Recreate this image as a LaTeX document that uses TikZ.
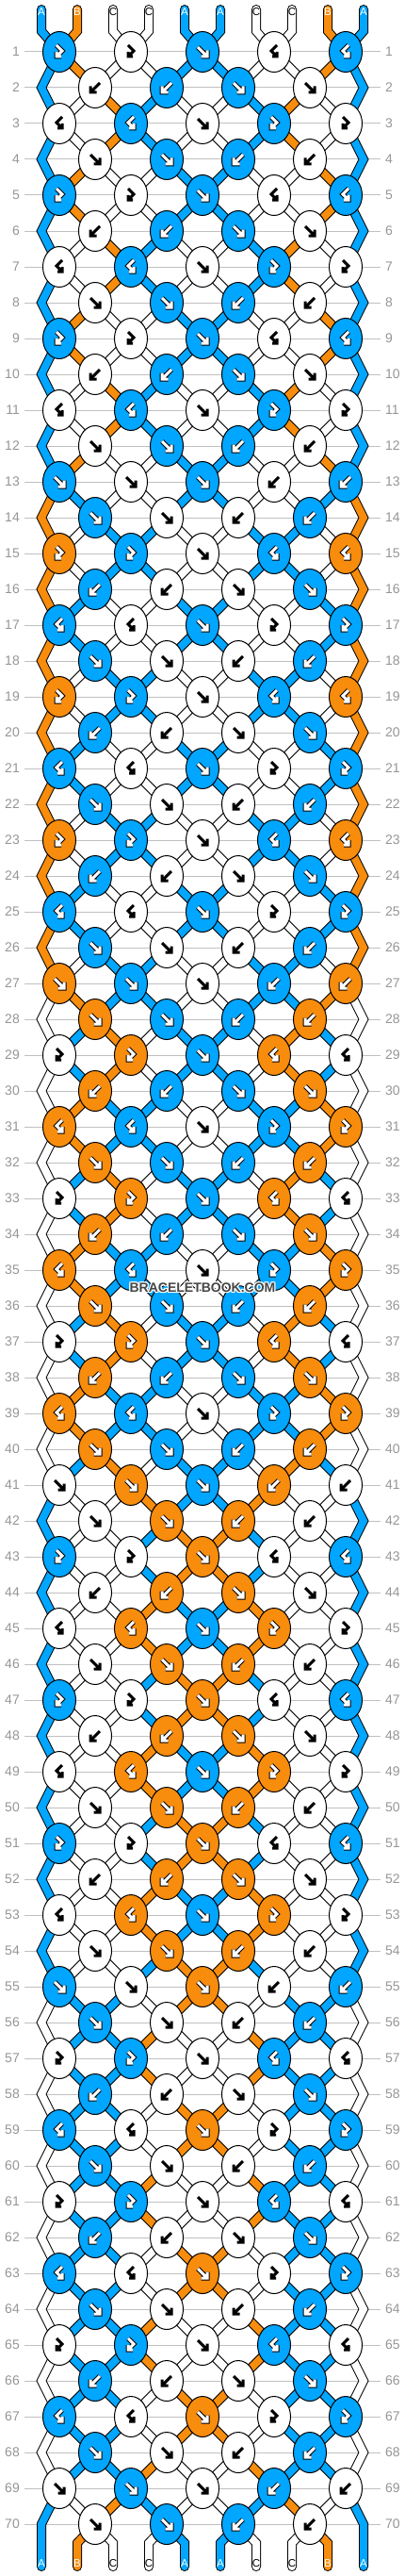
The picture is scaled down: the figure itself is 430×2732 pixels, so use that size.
\documentclass[tikz,border=0pt]{standalone}
\usepackage{fontspec}
\setmainfont{Liberation Sans}
\usetikzlibrary{shapes.geometric}
\definecolor{cA}{RGB}{0,166,255}
\definecolor{cB}{RGB}{248,140,12}
\definecolor{cC}{RGB}{255,255,255}
\definecolor{labgray}{RGB}{150,150,150}
\definecolor{linegray}{RGB}{192,192,192}
\definecolor{wmgray}{RGB}{70,70,70}
\pgfdeclarelayer{grid}
\pgfdeclarelayer{strings}
\pgfsetlayers{grid,strings,main}
\def\colC{cC}
% string states
\def\stXa{cA,cB,cC,cC,cA,cA,cC,cC,cB,cA}
\def\stXb{cA,cC,cB,cA,cC,cC,cA,cB,cC,cA}
\def\stYa{cB,cA,cC,cC,cA,cA,cC,cC,cA,cB}
\def\stYb{cB,cC,cA,cA,cC,cC,cA,cA,cC,cB}
\def\stZa{cC,cB,cA,cA,cC,cC,cA,cA,cB,cC}
\def\stZb{cC,cA,cB,cC,cA,cA,cC,cB,cA,cC}
\def\stWa{cA,cC,cC,cB,cA,cA,cB,cC,cC,cA}
\def\stWb{cA,cC,cC,cA,cB,cB,cA,cC,cC,cA}
\def\stVa{cC,cA,cA,cC,cB,cB,cC,cA,cA,cC}
\def\stVb{cC,cA,cA,cB,cC,cC,cB,cA,cA,cC}
% knot rows
\def\knA{fb/cA,fb/cC,f/cA,bf/cC,bf/cA}
\def\knB{b/cC,b/cA,f/cA,f/cC}
\def\knC{bf/cC,bf/cA,f/cC,fb/cA,fb/cC}
\def\knD{f/cC,f/cA,b/cA,b/cC}
\def\knE{f/cA,f/cC,f/cA,b/cC,b/cA}
\def\knF{f/cA,f/cC,b/cC,b/cA}
\def\knG{fb/cB,fb/cA,f/cC,bf/cA,bf/cB}
\def\knH{b/cA,b/cC,f/cC,f/cA}
\def\knI{bf/cA,bf/cC,f/cA,fb/cC,fb/cA}
\def\knJ{f/cA,f/cC,b/cC,b/cA}
\def\knK{f/cB,f/cA,f/cC,b/cA,b/cB}
\def\knL{f/cB,f/cA,b/cA,b/cB}
\def\knM{fb/cC,fb/cB,f/cA,bf/cB,bf/cC}
\def\knN{b/cB,b/cA,f/cA,f/cB}
\def\knO{bf/cB,bf/cA,f/cC,fb/cA,fb/cB}
\def\knP{f/cB,f/cA,b/cA,b/cB}
\def\knQ{f/cC,f/cB,f/cA,b/cB,b/cC}
\def\knR{f/cC,f/cB,b/cB,b/cC}
\def\knS{fb/cA,fb/cC,f/cB,bf/cC,bf/cA}
\def\knT{b/cC,b/cB,f/cB,f/cC}
\def\knU{bf/cC,bf/cB,f/cA,fb/cB,fb/cC}
\def\knV{f/cC,f/cB,b/cB,b/cC}
\def\knW{f/cA,f/cC,f/cB,b/cC,b/cA}
\def\knX{f/cA,f/cC,b/cC,b/cA}
\def\knY{fb/cC,fb/cA,f/cC,bf/cA,bf/cC}
\def\knZ{b/cA,b/cC,f/cC,f/cA}
\def\kna{bf/cA,bf/cC,f/cB,fb/cC,fb/cA}
\def\knb{f/cA,f/cC,b/cC,b/cA}
\def\knc{f/cC,f/cA,f/cC,b/cA,b/cC}
\def\knd{f/cC,f/cA,b/cA,b/cC}
\tikzset{
  knot/.style={ellipse, draw=black, line width=1pt, minimum width=35pt, minimum height=43pt, inner sep=0pt},
  strand/.style={draw=black, line width=1pt, double=#1, double distance=8pt},
  rowlab/.style={text=labgray, font=\fontsize{14}{16}\selectfont, inner sep=0pt},
  toplab/.style={font=\fontsize{11.5}{13}\selectfont, inner sep=0pt},
  gridline/.style={draw=linegray, line width=1pt},
  glyphdark/.style={draw=black, line width=3pt, line cap=square, line join=miter},
  glyphline/.style={draw=black, line width=5pt, line cap=square, line join=miter},
  glyphlight/.style={draw=white, line width=3pt, line cap=square, line join=miter},
  gf/.pic={\path[pic actions] (-5,-5) -- (4,4) (5,-1.5) -- (5,5) -- (-1.5,5);},
  gb/.pic={\path[pic actions] (5,-5) -- (-4,4) (-5,-1.5) -- (-5,5) -- (1.5,5);},
  gfb/.pic={\path[pic actions] (-3,-7) -- (3,-1) -- (-2.2,4.2) (-3,0) -- (-3,5) -- (2,5);},
  gbf/.pic={\path[pic actions] (3,-7) -- (-3,-1) -- (2.2,4.2) (3,0) -- (3,5) -- (-2,5);},
  wm/.style={font=\bfseries\fontsize{14}{16}\selectfont, inner sep=0pt}
}
\begin{document}
\begin{tikzpicture}[x=1pt,y=-1pt]
\useasboundingbox (0,0) rectangle (430,2732);
\begin{pgfonlayer}{grid}
\fill[white] (0,0) rectangle (430,2732);
\end{pgfonlayer}
% row lines and labels
\foreach \ri in {1,...,70} {
  \pgfmathsetmacro\yy{55+38*(\ri-1)}
  \begin{pgfonlayer}{grid}
  \draw[gridline] (26,\yy) -- (404,\yy);
  \end{pgfonlayer}
  \node[rowlab, anchor=east] (LL\ri) at (21,\yy) {\ri};
  \node[rowlab, anchor=west] (RL\ri) at (409,\yy) {\ri};
}
% knots
\foreach \rn [count=\ri] in {A,B,C,D,A,B,C,D,A,B,C,D,E,F,G,H,I,J,G,H,I,J,G,H,I,J,K,L,M,N,O,P,M,N,O,P,M,N,O,P,Q,R,S,T,U,V,S,T,U,V,S,T,U,V,W,X,Y,Z,a,b,Y,Z,a,b,Y,Z,a,b,c,d} {
  \pgfmathsetmacro\yy{55+38*(\ri-1)}
  \pgfmathsetmacro\xo{isodd(\ri) ? 63 : 101}
  \edef\kl{\csname kn\rn\endcsname}
  \foreach \ty/\kc [count=\kk] in \kl {
    \node[knot, fill=\kc] (K\ri-\kk) at ({\xo+76*(\kk-1)}, \yy) {};
    \edef\tmpc{\kc}
    \ifx\tmpc\colC
      \pic[glyphdark] at (K\ri-\kk) {g\ty};
    \else
      \pic[glyphline] at (K\ri-\kk) {g\ty};
      \pic[glyphlight] at (K\ri-\kk) {g\ty};
    \fi
  }
}
% string ends (top and bottom)
\foreach \sc/\lt/\tc [count=\pp] in {cA/A/white,cB/B/white,cC/C/black,cC/C/black,cA/A/white,cA/A/white,cC/C/black,cC/C/black,cB/B/white,cA/A/white} {
  \pgfmathsetmacro\xx{44+38*(\pp-1)}
  \pgfmathtruncatemacro\ka{int((\pp+1)/2)}
  \pgfmathtruncatemacro\kb{int(\pp/2)}
  \coordinate (Top\pp) at (\xx,10);
  \coordinate (TopB\pp) at (\xx,33);
  \coordinate (Bot\pp) at (\xx,2722);
  \coordinate (BotB\pp) at (\xx,2697);
  \begin{pgfonlayer}{strings}
  \draw[strand=\sc, line cap=round] (Top\pp) -- (TopB\pp) -- (K1-\ka.center);
  \ifnum\pp>1 \ifnum\pp<10
  \draw[strand=\sc, line cap=round] (K70-\kb.center) -- (BotB\pp) -- (Bot\pp);
  \fi\fi
  \end{pgfonlayer}
  \node[toplab, text=\tc] (TL\pp) at (\xx,13) {\lt};
  \node[toplab, text=\tc] (BL\pp) at (\xx,2719) {\lt};
}
% inner string segments
\begin{pgfonlayer}{strings}
\foreach \sn [count=\ri] in {Xa,Xb,Xb,Xa,Xa,Xb,Xb,Xa,Xa,Xb,Xb,Xa,Ya,Yb,Yb,Ya,Ya,Yb,Yb,Ya,Ya,Yb,Yb,Ya,Ya,Yb,Za,Zb,Zb,Za,Za,Zb,Zb,Za,Za,Zb,Zb,Za,Za,Zb,Wa,Wb,Wb,Wa,Wa,Wb,Wb,Wa,Wa,Wb,Wb,Wa,Wa,Wb,Va,Vb,Vb,Va,Va,Vb,Vb,Va,Va,Vb,Vb,Va,Va,Vb,Xb} {
  \pgfmathtruncatemacro\rj{\ri+1}
  \edef\stl{\csname st\sn\endcsname}
  \foreach \sc [count=\pp] in \stl {
    \ifnum\pp>1 \ifnum\pp<10
      \pgfmathtruncatemacro\ka{isodd(\ri) ? int((\pp+1)/2) : int(\pp/2)}
      \pgfmathtruncatemacro\kb{isodd(\rj) ? int((\pp+1)/2) : int(\pp/2)}
      \draw[strand=\sc] (K\ri-\ka.center) -- (K\rj-\kb.center);
    \fi\fi
  }
}
% edge strings
\foreach \rr/\ec in {2/cA,4/cA,6/cA,8/cA,10/cA,12/cA,14/cB,16/cB,18/cB,20/cB,22/cB,24/cB,26/cB,28/cC,30/cC,32/cC,34/cC,36/cC,38/cC,40/cC,42/cA,44/cA,46/cA,48/cA,50/cA,52/cA,54/cA,56/cC,58/cC,60/cC,62/cC,64/cC,66/cC,68/cC,70/cA} {
  \pgfmathsetmacro\yy{55+38*(\rr-1)}
  \pgfmathtruncatemacro\ra{\rr-1}
  \pgfmathtruncatemacro\rb{\rr+1}
  \coordinate (EL\rr) at (44,\yy);
  \coordinate (ER\rr) at (386,\yy);
  \ifnum\rr<70
    \draw[strand=\ec] (K\ra-1.center) -- (EL\rr) -- (K\rb-1.center);
    \draw[strand=\ec] (K\ra-5.center) -- (ER\rr) -- (K\rb-5.center);
  \else
    \draw[strand=\ec, line cap=round] (K\ra-1.center) -- (EL\rr) -- (Bot1);
    \draw[strand=\ec, line cap=round] (K\ra-5.center) -- (ER\rr) -- (Bot10);
  \fi
}
\end{pgfonlayer}
% watermark
\foreach \dx/\dy [count=\hh] in {-1/0,1/0,0/-1,0/1,-1/-1,1/1,-1/1,1/-1} {
  \node[wm, text=white] (WMh\hh) at (215+\dx,1366+\dy) {BRACELETBOOK.COM};
}
\node[wm, text=wmgray] (WM) at (215,1366) {BRACELETBOOK.COM};
\end{tikzpicture}
\end{document}
